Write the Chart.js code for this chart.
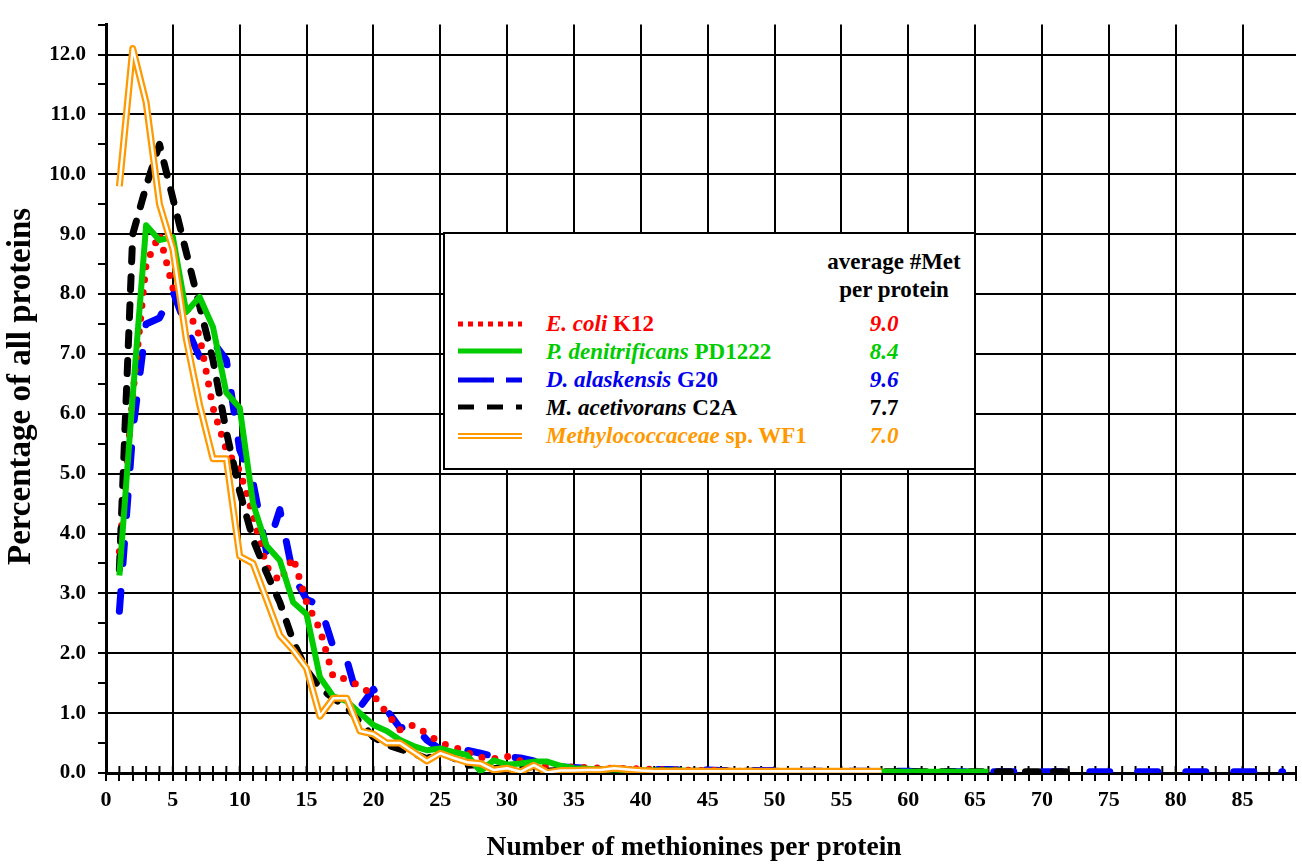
<!DOCTYPE html>
<html>
<head>
<meta charset="utf-8">
<script src="https://cdn.jsdelivr.net/npm/chart.js@4.4.1/dist/chart.umd.min.js"></script>
<style>
  html, body { margin: 0; padding: 0; background: #ffffff; }
  #wrap { position: relative; width: 1302px; height: 867px; overflow: hidden; }
  #chart { display: block; }
  #legend {
    position: absolute; left: 443px; top: 232px; width: 529px; height: 234px;
    border: 2px solid #000; background: #fff;
    font-family: 'Liberation Serif', 'Times New Roman', serif; font-weight: bold; font-size: 23px;
  }
  #legend .t { position: absolute; white-space: nowrap; line-height: 26px; }
  #legend .v { position: absolute; white-space: nowrap; line-height: 26px; width: 80px; text-align: center; left: 399px; }
  #legend i { font-style: italic; }
  #legend svg { position: absolute; left: 11px; }
</style>
</head>
<body>
<div id="wrap">
  <canvas id="chart" width="1302" height="867"></canvas>
  <div id="legend">
    <div class="t" style="left:379px; top:15px; width:140px; text-align:center;">average #Met</div>
    <div class="t" style="left:379px; top:43px; width:140px; text-align:center;">per protein</div>

    <svg width="70" height="12" style="top:84px"><line x1="2" y1="6" x2="66" y2="6" stroke="#ff0000" stroke-width="5" stroke-dasharray="5 5"/></svg>
    <div class="t" style="left:101px; top:77px; color:#ff0000;"><i>E. coli</i> K12</div>
    <div class="v" style="top:77px; color:#ff0000;"><i>9.0</i></div>

    <svg width="70" height="12" style="top:111px"><line x1="2" y1="6" x2="66" y2="6" stroke="#00cc00" stroke-width="5"/></svg>
    <div class="t" style="left:101px; top:105px; color:#00cc00;"><i>P. denitrificans</i> PD1222</div>
    <div class="v" style="top:105px; color:#00cc00;"><i>8.4</i></div>

    <svg width="70" height="12" style="top:140px"><line x1="2" y1="6" x2="66" y2="6" stroke="#0000ee" stroke-width="5" stroke-dasharray="36 12"/></svg>
    <div class="t" style="left:101px; top:133px; color:#0000ee;"><i>D. alaskensis</i> G20</div>
    <div class="v" style="top:133px; color:#0000ee;"><i>9.6</i></div>

    <svg width="70" height="12" style="top:167px"><line x1="2" y1="6" x2="66" y2="6" stroke="#000" stroke-width="5" stroke-dasharray="16 13"/></svg>
    <div class="t" style="left:101px; top:161px; color:#000;"><i>M. acetivorans</i> C2A</div>
    <div class="v" style="top:161px; color:#000;">7.7</div>

    <svg width="70" height="12" style="top:196px"><line x1="2" y1="6" x2="66" y2="6" stroke="#ff9900" stroke-width="6"/><line x1="2" y1="6" x2="66" y2="6" stroke="#ffffff" stroke-width="2"/></svg>
    <div class="t" style="left:101px; top:189px; color:#ff9900;"><i>Methylococcaceae</i> sp. WF1</div>
    <div class="v" style="top:189px; color:#ff9900;"><i>7.0</i></div>
  </div>
</div>
<script>
// Number of methionines per protein (x categories)
const methionines = [1,2,3,4,5,6,7,8,9,10,11,12,13,14,15,16,17,18,19,20,
  21,22,23,24,25,26,27,28,29,30,31,32,33,34,35,36,37,38,39,40,
  41,42,43,44,45,46,47,48,49,50,51,52,53,54,55,56,57,58,59,60,
  61,62,63,64,65,66,67,68,69,70,71,72,73,74,75,76,77,78,79,80,
  81,82,83,84,85,86,87,88];

// Percentage of all proteins
const ecoliK12 = [3.7,6.3,8.5,9.0,8.1,7.8,7.3,6.1,5.4,5.05,
  4.3,3.45,3.2,3.6,2.85,2.4,1.6,1.57,1.45,1.3,
  1.0,0.72,0.8,0.66,0.5,0.44,0.34,0.26,0.24,0.28,
  0.2,0.15,0.1,0.1,0.1,0.09,0.08,0.08,0.07,0.07,
  0.06,0.05,0.05,0.04,0.04,0.04,0.03,0.03,0.03,0.03,
  0.02,0.02,0.02,0.02,0.02];

const pDenitrificans = [3.3,6.3,9.15,8.9,8.95,7.7,7.95,7.45,6.35,6.1,
  4.5,3.8,3.55,2.85,2.65,1.6,1.28,1.2,1.0,0.8,
  0.7,0.55,0.45,0.38,0.41,0.35,0.3,0.03,0.21,0.14,
  0.16,0.19,0.19,0.12,0.08,0.07,0.06,0.06,0.05,0.04,
  0.04,0.04,0.04,0.03,0.03,0.03,0.03,0.03,0.03,0.03,
  0.03,0.03,0.03,0.02,0.02,0.02,0.02,0.02,0.02,0.02,
  0.02,0.02,0.02,0.02,0.02,0.02];

const dAlaskensis = [2.7,5.7,7.5,7.6,8.05,7.45,6.95,7.2,6.9,5.4,
  4.85,3.7,4.4,3.3,2.9,2.8,2.1,1.9,1.1,1.4,
  1.05,0.75,0.8,0.55,0.4,0.43,0.38,0.33,0.28,0.27,
  0.25,0.2,0.12,0.1,0.09,0.08,0.07,0.07,0.06,0.06,
  0.06,0.06,0.05,0.05,0.05,0.04,0.04,0.04,0.04,0.04,
  0.03,0.03,0.03,0.03,0.03,0.03,0.03,0.03,0.03,0.03,
  0.02,0.02,0.02,0.02,0.02,0.02,0.02,0.02,0.02,0.02,
  0.02,0.02,0.02,0.02,0.02,0.02,0.02,0.02,0.02,0.02,
  0.02,0.02,0.02,0.02,0.02,0.02,0.02,0.02];

const mAcetivorans = [3.4,9.0,9.8,10.5,9.6,8.7,7.8,6.9,5.7,4.7,
  3.9,3.35,2.85,2.2,1.72,1.42,1.25,1.1,0.85,0.6,
  0.47,0.4,0.33,0.24,0.35,0.25,0.13,0.14,0.07,0.1,
  0.05,0.12,0.03,0.04,0.04,0.04,0.04,0.04,0.03,0.03,
  0.03,0.03,0.03,0.03,0.03,0.03,0.03,0.03,0.03,0.03,
  0.02,0.02,0.02,0.02,0.02,0.02,0.02,0.02,0.02,0.02,
  0.02,0.02,0.02,0.02,0.02,0.02,0.02,0.02,0.02,0.02,
  0.02,0.02];

const methylococcaceae = [9.8,12.1,11.2,9.5,8.75,7.25,6.15,5.25,5.25,3.62,
  3.5,2.9,2.3,2.05,1.75,0.95,1.25,1.25,0.7,0.65,
  0.5,0.5,0.35,0.2,0.33,0.25,0.18,0.16,0.05,0.08,
  0.02,0.13,0.01,0.04,0.04,0.05,0.05,0.08,0.06,0.04,
  0.03,0.03,0.03,0.03,0.03,0.03,0.03,0.03,0.03,0.03,
  0.03,0.03,0.03,0.03,0.03,0.03,0.03,0.03];

const xTickLabelEvery = 5;
const yTickLabelEvery = 1;

const SERIF = "'Liberation Serif', 'Times New Roman', serif";
const toPoints = vals => vals.map((v, i) => ({ x: methionines[i], y: v }));

const crossTicks = {
  id: 'crossTicks',
  beforeDatasetsDraw(chart) {
    const xs = chart.scales.x;
    const ctx = chart.ctx;
    ctx.save();
    ctx.strokeStyle = '#000';
    ctx.lineWidth = 2;
    ctx.beginPath();
    xs.ticks.forEach(t => {
      const px = xs.getPixelForValue(t.value);
      ctx.moveTo(px, xs.top - 7);
      ctx.lineTo(px, xs.top);
    });
    ctx.stroke();
    ctx.restore();
  }
};

new Chart(document.getElementById('chart'), {
  type: 'line',
  data: {
    datasets: [
      { data: toPoints(methylococcaceae), borderColor: '#ffffff', borderWidth: 2.5, order: 0 },
      { data: toPoints(methylococcaceae), borderColor: '#ff9900', borderWidth: 7, order: 1 },
      { data: toPoints(pDenitrificans), borderColor: '#00cc00', borderWidth: 6, order: 2 },
      { data: toPoints(mAcetivorans), borderColor: '#000000', borderWidth: 7, borderDash: [13, 15], borderCapStyle: 'round', order: 3 },
      { data: toPoints(ecoliK12), borderColor: '#ff0000', borderWidth: 7, borderDash: [0, 13], borderCapStyle: 'round', order: 4 },
      { data: toPoints(dAlaskensis), borderColor: '#0000ff', borderWidth: 7, borderDash: [20, 28], borderCapStyle: 'round', order: 5 }
    ]
  },
  options: {
    responsive: false,
    animation: false,
    layout: { padding: { top: 14, right: 4, left: 0, bottom: 0 } },
    plugins: { legend: { display: false }, tooltip: { enabled: false } },
    elements: { point: { radius: 0 }, line: { tension: 0, borderJoinStyle: 'round' } },
    scales: {
      x: {
        type: 'linear', min: 0, max: 89,
        ticks: {
          stepSize: 1, autoSkip: false, maxRotation: 0, minRotation: 0, padding: 6, color: '#000',
          font: { family: SERIF, size: 22, weight: 'bold' },
          callback: v => (v % xTickLabelEvery === 0 ? String(v) : '')
        },
        grid: {
          color: c => (c.tick && c.tick.value % xTickLabelEvery === 0 ? '#000' : 'rgba(0,0,0,0)'),
          lineWidth: 2, tickColor: '#000', tickWidth: 2, tickLength: 8
        },
        border: { color: '#000', width: 3 },
        title: {
          display: true, text: 'Number of methionines per protein\u00a0\u00a0', color: '#000',
          font: { family: SERIF, size: 27.5, weight: 'bold' }, padding: { top: 0, bottom: 3 }
        },
        afterFit: s => { s.height = 94; }
      },
      y: {
        min: 0, max: 12.5,
        ticks: {
          stepSize: 0.5, autoSkip: false, padding: 12, color: '#000',
          font: { family: SERIF, size: 21, weight: 'bold' },
          callback: v => (Number.isInteger(v / yTickLabelEvery) ? v.toFixed(1) : '')
        },
        grid: {
          color: c => (c.tick && Number.isInteger(c.tick.value) ? '#000' : 'rgba(0,0,0,0)'),
          lineWidth: 2, tickColor: '#000', tickWidth: 2, tickLength: 8
        },
        border: { color: '#000', width: 3 },
        title: {
          display: true, text: '\u00a0\u00a0\u00a0Percentage of all proteins', color: '#000',
          font: { family: SERIF, size: 33, weight: 'bold' }, padding: { top: 2, bottom: 0 }
        },
        afterFit: s => { s.width = 106; }
      }
    }
  },
  plugins: [crossTicks]
});
</script>
</body>
</html>
